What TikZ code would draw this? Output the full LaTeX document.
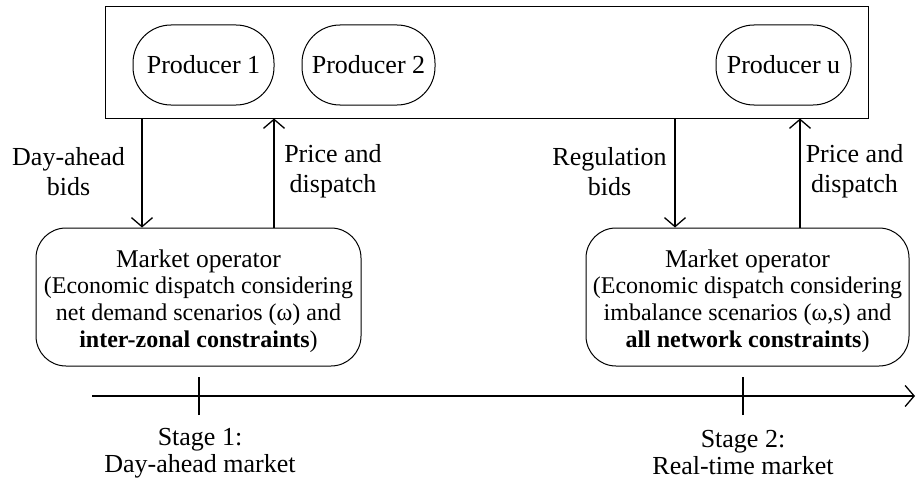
\documentclass[tikz,border=0pt]{standalone}
\usepackage{fontspec}
\setmainfont{Liberation Serif}
\usetikzlibrary{arrows.meta}
\begin{document}
\begin{tikzpicture}[x=1pt,y=-1pt,
  every node/.style={font=\fontsize{26}{30}\selectfont},
  arr/.style={line width=1.3pt,-{Straight Barb[length=9pt,width=21pt,line width=1.3pt]}},
  prod/.style={draw,line width=1pt,rounded corners=38pt,minimum height=80pt,inner sep=0pt},
  op/.style={draw,line width=1pt,rounded corners=30pt,minimum height=138pt,inner sep=0pt},
  optext/.style={align=center,inner sep=0pt,font=\fontsize{24}{26.7}\selectfont},
  lab/.style={align=center,inner sep=0pt},
  stagelab/.style={align=center,inner sep=0pt,font=\fontsize{26}{27}\selectfont},
  tick/.style={line width=1.3pt}]
\useasboundingbox (0,0) rectangle (917,487);
% producers frame
\node[draw,line width=1pt,minimum width=763pt,minimum height=111pt,inner sep=0pt] (frame) at (486.5,62.5) {};
\node[prod,minimum width=141pt] (p1) at (203.5,65) {Producer 1};
\node[prod,minimum width=133pt] (p2) at (368.5,65) {Producer 2};
\node[prod,minimum width=135pt] (pu) at (783.5,65) {Producer u};
% market operators
\node[op,minimum width=325pt] (mo1) at (198.5,297) {};
\node[optext,yshift=-4pt] (mo1t) at (mo1.center) {{\fontsize{25.5}{26.7}\selectfont Market operator}\\(Economic dispatch considering\\net demand scenarios (ω) and\\\textbf{inter-zonal constraints})};
\node[op,minimum width=323pt] (mo2) at (747.5,297) {};
\node[optext,yshift=-4pt] (mo2t) at (mo2.center) {{\fontsize{25.5}{26.7}\selectfont Market operator}\\(Economic dispatch considering\\imbalance scenarios (ω,s) and\\\textbf{all network constraints})};
% arrow columns
\coordinate (c1) at (142,0);
\coordinate (c2) at (274,0);
\coordinate (c3) at (675,0);
\coordinate (c4) at (800,0);
\draw[arr] (frame.south -| c1) -- (mo1.north -| c1);
\draw[arr] (mo1.north -| c2) -- (frame.south -| c2);
\draw[arr] (frame.south -| c3) -- (mo2.north -| c3);
\draw[arr] (mo2.north -| c4) -- (frame.south -| c4);
% labels
\node[lab] (l1) at (68.5,171.5) {Day-ahead\\bids};
\node[lab] (l2) at (333,171.5) {Price and\\dispatch};
\node[lab] (l3) at (609.5,171.5) {Regulation\\bids};
\node[lab] (l4) at (854.5,171.5) {Price and\\dispatch};
% timeline
\coordinate (t0) at (92,396);
\coordinate (t1) at (915,396);
\draw[arr] (t0) -- (t1);
\coordinate (s1) at (199,396);
\coordinate (s2) at (743,396);
\draw[tick] ([yshift=-19pt]s1) -- ([yshift=19pt]s1);
\draw[tick] ([yshift=-19pt]s2) -- ([yshift=19pt]s2);
\node[stagelab] (st1) at (200,453) {Stage 1:\\Day-ahead market};
\node[stagelab] (st2) at (743,453) {Stage 2:\\Real-time market};
\end{tikzpicture}
\end{document}
